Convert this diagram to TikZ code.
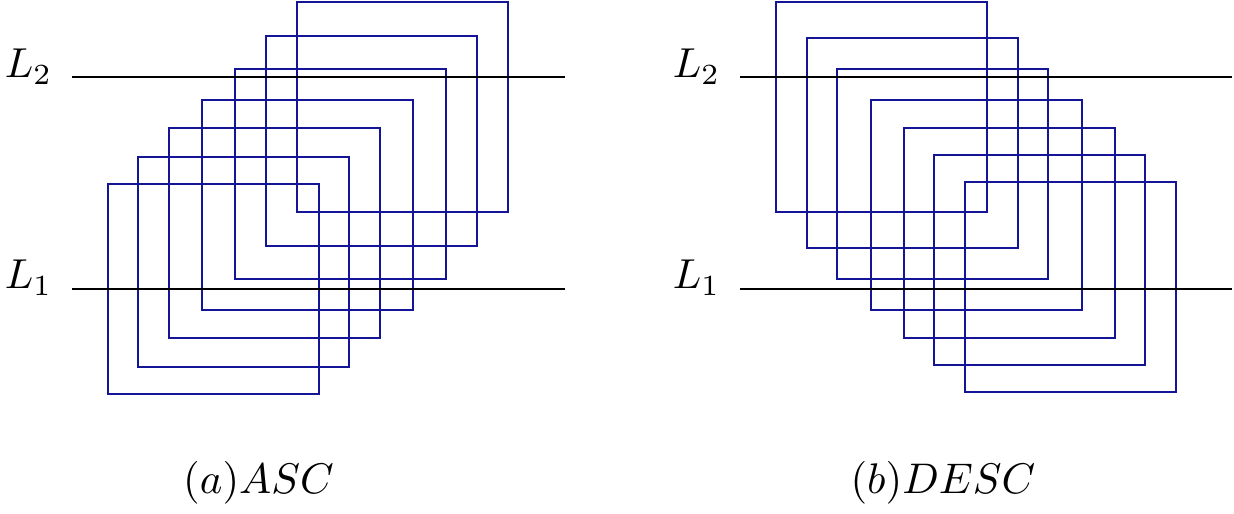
\documentclass[tikz,border=0pt]{standalone}
\definecolor{sqblue}{RGB}{20,20,150}
\begin{document}
\begin{tikzpicture}[x=1bp,y=-1bp,
  sq/.style={draw=sqblue,line width=2bp},
  lvl/.style={draw=black,line width=2bp},
  lab/.style={inner sep=0pt,anchor=base west,scale=4.2},
  captxt/.style={inner sep=0pt,anchor=base,scale=4.3}]
\useasboundingbox (0,0) rectangle (1234,514);
% left panel
\foreach \x/\y in {108/184,138/157,169/128,202/100,235/69,266/36,297/2}
  \draw[sq] (\x,\y) rectangle ++(211,210);
\draw[lvl] (72,77) -- (565,77);
\draw[lvl] (72,289) -- (565,289);
\node[lab] (l2a) at (4,78) {$L_2$};
\node[lab] (l1a) at (4,289) {$L_1$};
\node[captxt] (capa) at (258.5,493) {$(a) ASC$};
% right panel
\foreach \x/\y in {776/2,807/38,837/69,871/100,904/128,934/155,965/182}
  \draw[sq] (\x,\y) rectangle ++(211,210);
\draw[lvl] (740,77) -- (1232,77);
\draw[lvl] (740,289) -- (1232,289);
\node[lab] (l2b) at (672,78) {$L_2$};
\node[lab] (l1b) at (672,289) {$L_1$};
\node[captxt] (capb) at (943,493) {$(b) DESC$};
\end{tikzpicture}
\end{document}
